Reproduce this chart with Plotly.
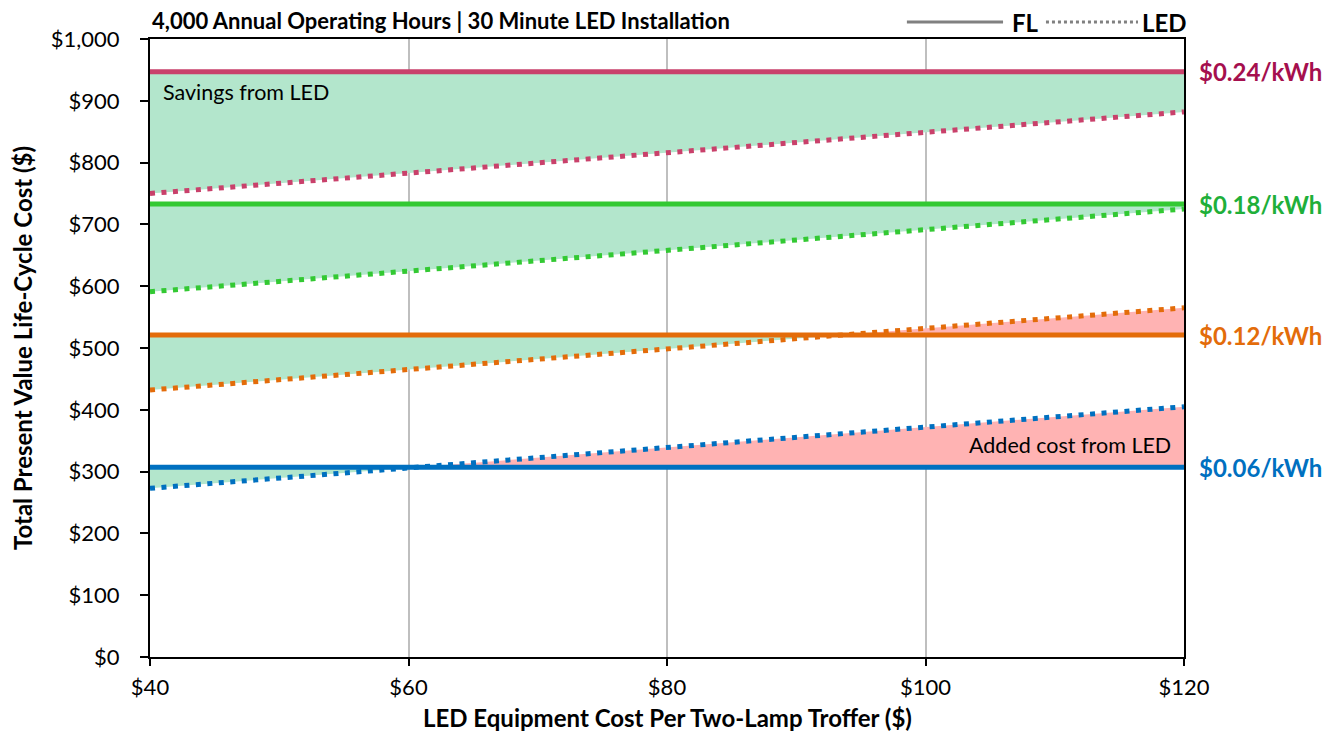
import plotly.graph_objects as go

# ---- data ----
led_cost = [40, 120]                       # LED equipment cost per troffer ($)
rates = ["$0.24/kWh", "$0.18/kWh", "$0.12/kWh", "$0.06/kWh"]
fl_cost = [947, 733, 521, 307]             # FL life-cycle cost (flat)
led_at_40 = [750, 591, 432, 273]           # LED life-cycle cost at $40
led_at_120 = [882, 725, 565, 405]          # LED life-cycle cost at $120

line_colors = ["#C9416B", "#33C933", "#E36C0A", "#0070C0"]
label_colors = ["#A50F4E", "#1FAF3A", "#E36C0A", "#0070C0"]
GREEN = "#B3E6CC"
RED = "#FFB3B3"
FONT = "Lato"

fig = go.Figure()

# fills
for fl, l0, l1 in zip(fl_cost, led_at_40, led_at_120):
    x0, x1 = led_cost
    if l1 <= fl:
        fig.add_trace(go.Scatter(x=[x0, x1, x1, x0, x0], y=[fl, fl, l1, l0, fl],
                                 fill="toself", fillcolor=GREEN, line=dict(width=0),
                                 mode="lines", hoverinfo="skip", showlegend=False))
    elif l0 >= fl:
        fig.add_trace(go.Scatter(x=[x0, x1, x1, x0, x0], y=[fl, fl, l1, l0, fl],
                                 fill="toself", fillcolor=RED, line=dict(width=0),
                                 mode="lines", hoverinfo="skip", showlegend=False))
    else:
        xc = x0 + (fl - l0) / (l1 - l0) * (x1 - x0)
        fig.add_trace(go.Scatter(x=[x0, xc, x0, x0], y=[fl, fl, l0, fl],
                                 fill="toself", fillcolor=GREEN, line=dict(width=0),
                                 mode="lines", hoverinfo="skip", showlegend=False))
        fig.add_trace(go.Scatter(x=[xc, x1, x1, xc], y=[fl, fl, l1, fl],
                                 fill="toself", fillcolor=RED, line=dict(width=0),
                                 mode="lines", hoverinfo="skip", showlegend=False))

# lines
for name, fl, l0, l1, c in zip(rates, fl_cost, led_at_40, led_at_120, line_colors):
    fig.add_trace(go.Scatter(x=led_cost, y=[fl, fl], mode="lines",
                             line=dict(color=c, width=5), name=name + " FL",
                             showlegend=False))
    fig.add_trace(go.Scatter(x=led_cost, y=[l0, l1], mode="lines",
                             line=dict(color=c, width=5, dash="5px,6.5px"),
                             name=name + " LED", showlegend=False))

# right labels
for name, fl, c in zip(rates, fl_cost, label_colors):
    fig.add_annotation(x=1.0, xref="paper", y=fl, yref="y", text="<b>%s</b>" % name,
                       showarrow=False, xanchor="left", yanchor="middle", xshift=13,
                       font=dict(family=FONT, size=24, color=c))

fig.add_annotation(x=40, y=914, text="Savings from LED", showarrow=False,
                   xanchor="left", xshift=11, yanchor="middle",
                   font=dict(family=FONT, size=21.5, color="#000000"))
fig.add_annotation(x=120, y=343, text="Added cost from LED", showarrow=False,
                   xanchor="right", xshift=-11, yanchor="middle",
                   font=dict(family=FONT, size=21.5, color="#000000"))

# title
fig.add_annotation(x=0, xref="paper", y=1.0307, yref="paper",
                   text="<b>4,000 Annual Operating Hours | 30 Minute LED Installation</b>",
                   showarrow=False, xanchor="left", yanchor="middle", xshift=0,
                   font=dict(family=FONT, size=22, color="#000000"))

# x-axis title
fig.add_annotation(x=0.5, xref="paper", y=-0.1262, yref="paper",
                   text="<b>LED Equipment Cost Per Two-Lamp Troffer ($)</b>",
                   showarrow=False, xanchor="center", yanchor="bottom", yshift=1,
                   font=dict(family=FONT, size=24, color="#000000"))

# legend (drawn)
fig.add_shape(type="line", xref="paper", yref="paper", x0=0.732, x1=0.825, y0=1.0275, y1=1.0275,
              line=dict(color="#808080", width=3))
fig.add_shape(type="line", xref="paper", yref="paper", x0=0.8665, x1=0.9555, y0=1.0275, y1=1.0275,
              line=dict(color="#808080", width=3, dash="3px,3px"))
fig.add_annotation(x=0.8317, xref="paper", y=1.0275, yref="paper", text="<b>FL</b>",
                   showarrow=False, xanchor="left", yanchor="middle",
                   font=dict(family=FONT, size=24, color="#000"))
fig.add_annotation(x=0.9574, xref="paper", y=1.0275, yref="paper", text="<b>LED</b>",
                   showarrow=False, xanchor="left", yanchor="middle",
                   font=dict(family=FONT, size=24, color="#000"))

fig.update_layout(
    width=1319, height=727,
    margin=dict(l=142, r=143, t=31, b=78),
    paper_bgcolor="white", plot_bgcolor="white",
    font=dict(family=FONT, size=22, color="#000"),
    showlegend=False,
)
fig.update_xaxes(range=[40, 120], dtick=20, tickprefix="$", showgrid=True,
                 gridcolor="#BFBFBF", gridwidth=1.5, showline=True, linecolor="#000",
                 linewidth=2, mirror=True, ticks="outside", ticklen=7, tickcolor="#000",
                 tickwidth=1.5, zeroline=False, ticklabelstandoff=3, automargin=False,
                 tickfont=dict(family=FONT, size=22))
fig.update_yaxes(range=[0, 1000], dtick=100, tickprefix="$", tickformat=",",
                 showgrid=False, showline=True, linecolor="#000", linewidth=2, mirror=True,
                 ticks="outside", ticklen=8, tickcolor="#000", tickwidth=1.5, zeroline=False,
                 ticklabelstandoff=16, tickfont=dict(family=FONT, size=22), automargin=False,
                 title=dict(text="<b>Total Present Value Life-Cycle Cost ($)</b>",
                            font=dict(family=FONT, size=24), standoff=14))

fig.write_html("out.html")
